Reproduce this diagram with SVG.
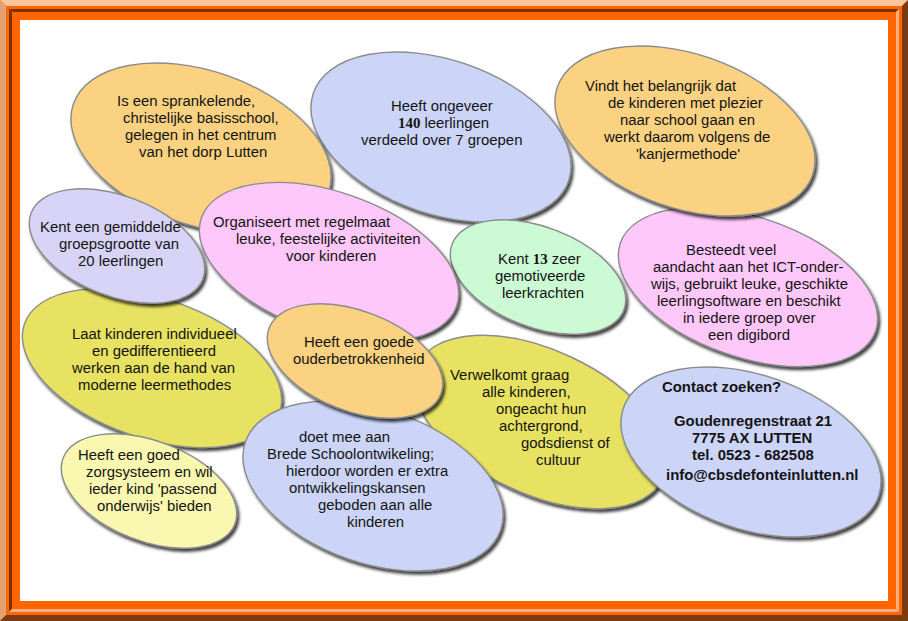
<svg xmlns="http://www.w3.org/2000/svg" width="908" height="621" viewBox="0 0 908 621">
<defs>
<filter id="sh" x="-15%" y="-15%" width="135%" height="140%">
<feGaussianBlur in="SourceAlpha" stdDeviation="1.4"/>
<feOffset dx="2" dy="3"/>
<feComponentTransfer><feFuncA type="linear" slope="0.75"/></feComponentTransfer>
<feMerge><feMergeNode/><feMergeNode in="SourceGraphic"/></feMerge>
</filter>
</defs>
<style>
.e{stroke:#8c8c8c;stroke-width:1.4}
.or{fill:#FAD282}.bl{fill:#CCD4F8}.lv{fill:#D8D4F8}.pk{fill:#FFC8FA}.gr{fill:#CCFAD4}.ye{fill:#E8E264}.ly{fill:#FAF8B0}
text{font-family:"Liberation Sans",Arial,sans-serif;font-size:14.9px;fill:#141414}
.b{font-weight:bold}
.n{font-family:"Liberation Serif","Times New Roman",serif;font-weight:bold}
</style>
<!-- frame -->
<rect x="0" y="0" width="908" height="621" fill="#FF6600"/>
<polygon points="0,0 908,0 902,6 6,6" fill="#FFC59A"/>
<polygon points="0,0 6,6 6,615 0,621" fill="#E3A070"/>
<polygon points="0,621 6,615 902,615 908,621" fill="#7A3A12"/>
<polygon points="908,0 908,621 902,615 902,6" fill="#7A3A12"/>
<polygon points="9,9 899,9 896,12 12,12" fill="#7A3200"/>
<polygon points="9,9 12,12 12,609 9,612" fill="#7A3200"/>
<polygon points="9,612 12,609 896,609 899,612" fill="#FFB080"/>
<polygon points="899,9 899,612 896,609 896,12" fill="#FFB080"/>
<rect x="20" y="20" width="868" height="581" fill="#FFFFFF"/>
<g id="connectors"/>
<g id="n2">
<g filter="url(#sh)"><ellipse class="e bl" cx="441" cy="137" rx="135" ry="77" transform="rotate(19 441 137)"/></g>
<text><tspan x="391" y="111">Heeft ongeveer</tspan><tspan x="398" y="128"><tspan class="n">140</tspan> leerlingen</tspan><tspan x="361" y="145">verdeeld over 7 groepen</tspan></text>
</g>
<g id="n1">
<g filter="url(#sh)"><ellipse class="e or" cx="201" cy="148" rx="135" ry="77" transform="rotate(19 201 148)"/></g>
<text><tspan x="117" y="106">Is een sprankelende,</tspan><tspan x="123" y="123">christelijke basisschool,</tspan><tspan x="125" y="140">gelegen in het centrum</tspan><tspan x="139" y="157">van het dorp Lutten</tspan></text>
</g>
<g id="n6">
<g filter="url(#sh)"><ellipse class="e gr" cx="538" cy="277" rx="92" ry="50" transform="rotate(21 538 277)"/></g>
<text><tspan x="498" y="264">Kent <tspan class="n">13</tspan> zeer</tspan><tspan x="495" y="281">gemotiveerde</tspan><tspan x="502" y="298">leerkrachten</tspan></text>
</g>
<g id="n7">
<g filter="url(#sh)"><ellipse class="e pk" cx="748" cy="287" rx="135" ry="70" transform="rotate(19 748 287)"/></g>
<text><tspan x="686" y="255">Besteedt veel</tspan><tspan x="653" y="272">aandacht aan het ICT-onder-</tspan><tspan x="651" y="289">wijs, gebruikt leuke, geschikte</tspan><tspan x="657" y="306">leerlingsoftware en beschikt</tspan><tspan x="683" y="323">in iedere groep over</tspan><tspan x="708" y="340">een digibord</tspan></text>
</g>
<g id="n3">
<g filter="url(#sh)"><ellipse class="e or" cx="685" cy="131" rx="135" ry="77" transform="rotate(19 685 131)"/></g>
<text><tspan x="585" y="91">Vindt het belangrijk dat</tspan><tspan x="608" y="108">de kinderen met plezier</tspan><tspan x="620" y="125">naar school gaan en</tspan><tspan x="604" y="142">werkt daarom volgens de</tspan><tspan x="636" y="159">'kanjermethode'</tspan></text>
</g>
<g id="n8">
<g filter="url(#sh)"><ellipse class="e ye" cx="152" cy="368" rx="135" ry="70" transform="rotate(19 152 368)"/></g>
<text><tspan x="72" y="339">Laat kinderen individueel</tspan><tspan x="92" y="356">en gedifferentieerd</tspan><tspan x="72" y="373">werken aan de hand van</tspan><tspan x="78" y="390">moderne leermethodes</tspan></text>
</g>
<g id="n12">
<g filter="url(#sh)"><ellipse class="e ly" cx="149" cy="491" rx="92" ry="50" transform="rotate(21 149 491)"/></g>
<text><tspan x="78" y="460">Heeft een goed</tspan><tspan x="86" y="477">zorgsysteem en wil</tspan><tspan x="89" y="494">ieder kind 'passend</tspan><tspan x="97" y="511">onderwijs' bieden</tspan></text>
</g>
<g id="n5">
<g filter="url(#sh)"><ellipse class="e pk" cx="329" cy="262" rx="135" ry="70" transform="rotate(19 329 262)"/></g>
<text><tspan x="213" y="227">Organiseert met regelmaat</tspan><tspan x="236" y="244">leuke, feestelijke activiteiten</tspan><tspan x="286" y="261">voor kinderen</tspan></text>
</g>
<g id="n4">
<g filter="url(#sh)"><ellipse class="e lv" cx="117" cy="246" rx="92" ry="50" transform="rotate(21 117 246)"/></g>
<text><tspan x="40" y="232">Kent een gemiddelde</tspan><tspan x="59" y="249">groepsgrootte van</tspan><tspan x="78" y="266">20 leerlingen</tspan></text>
</g>
<g id="n10">
<g filter="url(#sh)"><ellipse class="e ye" cx="540" cy="422" rx="135" ry="72" transform="rotate(25 540 422)"/></g>
<text><tspan x="450" y="380">Verwelkomt graag</tspan><tspan x="482" y="397">alle kinderen,</tspan><tspan x="496" y="414">ongeacht hun</tspan><tspan x="499" y="431">achtergrond,</tspan><tspan x="521" y="448">godsdienst of</tspan><tspan x="536" y="465">cultuur</tspan></text>
</g>
<g id="n13">
<g filter="url(#sh)"><ellipse class="e bl" cx="373" cy="486" rx="135" ry="77" transform="rotate(19 373 486)"/></g>
<text><tspan x="299" y="442">doet mee aan</tspan><tspan x="267" y="459">Brede Schoolontwikeling;</tspan><tspan x="286" y="476">hierdoor worden er extra</tspan><tspan x="289" y="493">ontwikkelingskansen</tspan><tspan x="318" y="510">geboden aan alle</tspan><tspan x="347" y="527">kinderen</tspan></text>
</g>
<g id="n11">
<g filter="url(#sh)"><ellipse class="e bl" cx="751" cy="452" rx="135" ry="77" transform="rotate(19 751 452)"/></g>
<text class="b"><tspan x="662" y="392">Contact zoeken?</tspan><tspan x="674" y="426">Goudenregenstraat 21</tspan><tspan x="692" y="443">7775 AX LUTTEN</tspan><tspan x="692" y="460">tel. 0523 - 682508</tspan><tspan x="666" y="480">info@cbsdefonteinlutten.nl</tspan></text>
</g>
<g id="n9">
<g filter="url(#sh)"><ellipse class="e or" cx="355" cy="361" rx="92" ry="50" transform="rotate(21 355 361)"/></g>
<text><tspan x="304" y="347">Heeft een goede</tspan><tspan x="293" y="364">ouderbetrokkenheid</tspan></text>
</g>
</svg>
